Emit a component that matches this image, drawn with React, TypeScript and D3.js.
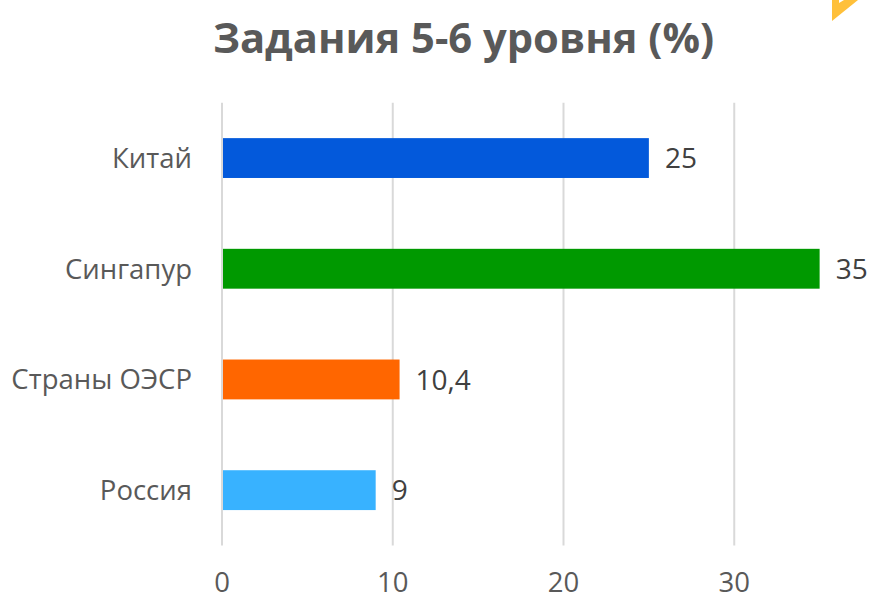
import React from "react";
import * as d3 from "d3";

const categories = ["Китай", "Сингапур", "Страны ОЭСР", "Россия"];
const values = [25, 35, 10.4, 9];
const valueLabels = ["25", "35", "10,4", "9"];
const barColors = ["#0359DB", "#009900", "#FF6600", "#38B2FF"];
const tickValues = [0, 10, 20, 30];
const title = "Задания 5-6 уровня (%)";

const W = 869;
const H = 600;
const FONT = "'Open Sans', 'Noto Sans', sans-serif";

export default function App() {
  const x = d3.scaleLinear().domain([0, 40]).range([222, 905]);
  const y = d3
    .scaleBand<string>()
    .domain(categories)
    .range([102.7, 545.5])
    .paddingInner(0.64)
    .paddingOuter(0.32);

  return (
    <svg
      width={W}
      height={H}
      style={{ position: "absolute", left: 0, top: 0, background: "#fff" }}
      fontFamily={FONT}
    >
      <rect width={W} height={H} fill="#fff" />
      {/* decorative corner shape */}
      <path d="M832,0 L858,0 L832,21 Z" fill="#FFC03A" />
      <path d="M839,0 L844,0 L839,3 Z" fill="#fff" />

      <text
        x={463.5}
        y={53}
        textAnchor="middle"
        fontSize={41.7}
        fontWeight={700}
        fill="#595959"
      >
        {title}
      </text>

      {tickValues.map((t) => (
        <line
          key={"g" + t}
          x1={x(t)}
          x2={x(t)}
          y1={102.7}
          y2={545.5}
          stroke="#D9D9D9"
          strokeWidth={2}
        />
      ))}

      {categories.map((c, i) => (
        <g key={c}>
          <rect
            x={x(0) + 1}
            y={y(c)!}
            width={x(values[i]) - x(0) - 1}
            height={y.bandwidth()}
            fill={barColors[i]}
          />
          <text
            x={x(values[i]) + 16}
            y={y(c)! + y.bandwidth() / 2}
            dy="0.36em"
            fontSize={28}
            fill="#404040"
          >
            {valueLabels[i]}
          </text>
          <text
            x={192}
            y={y(c)! + y.bandwidth() / 2}
            dy="0.36em"
            textAnchor="end"
            fontSize={27.5}
            fill="#595959"
          >
            {c}
          </text>
        </g>
      ))}

      {tickValues.map((t) => (
        <text
          key={"t" + t}
          x={x(t)}
          y={592}
          textAnchor="middle"
          fontSize={27.5}
          fill="#595959"
        >
          {t}
        </text>
      ))}
    </svg>
  );
}
